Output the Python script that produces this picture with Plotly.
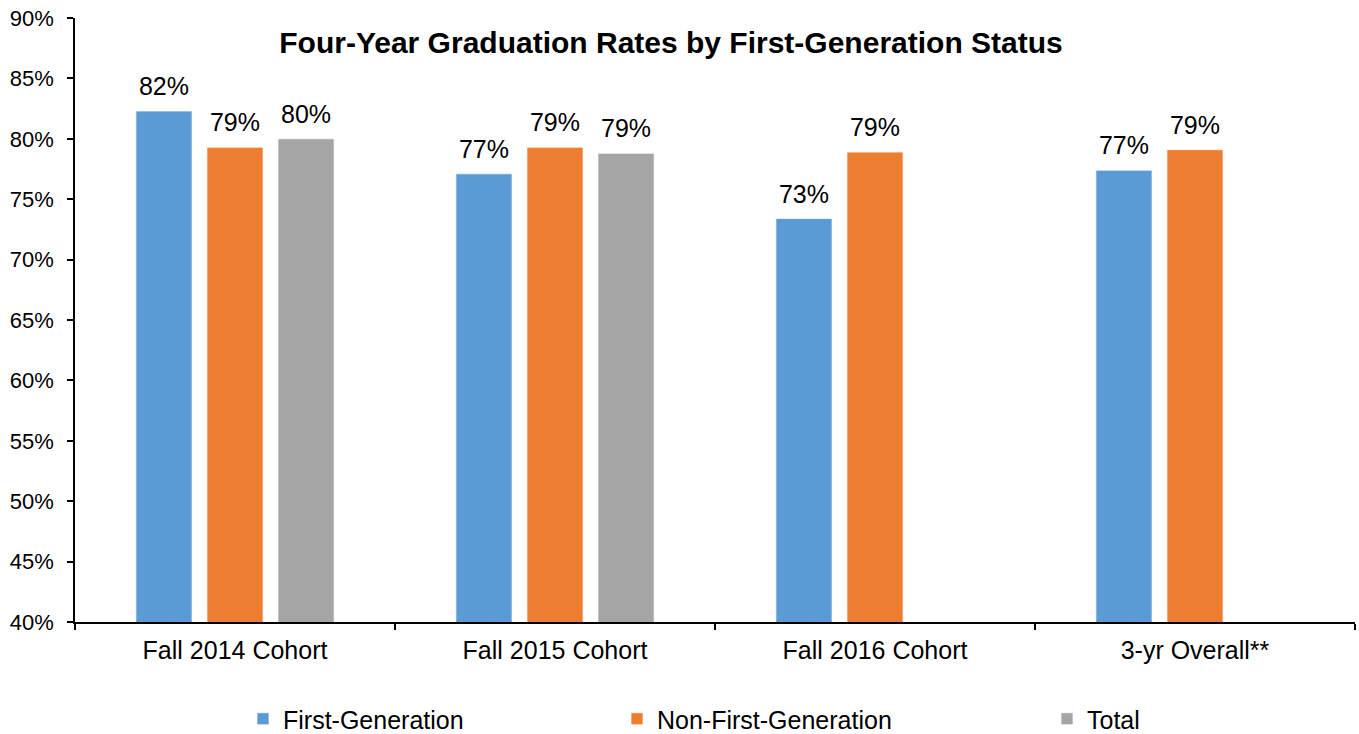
import plotly.graph_objects as go

categories = ["Fall 2014 Cohort", "Fall 2015 Cohort", "Fall 2016 Cohort", "3-yr Overall**"]
first_gen = [82.3, 77.1, 73.4, 77.4]
non_first_gen = [79.3, 79.3, 78.9, 79.1]
total = [80.0, 78.8, None, None]

series_names = ["First-Generation", "Non-First-Generation", "Total"]
series_colors = ["#5B9BD5", "#ED7D31", "#A5A5A5"]
legend_ids = ["legend", "legend2", "legend3"]
legend_x = [243 / 1359, 617 / 1359, 1047 / 1359]

FONT = "Liberation Sans, Arial, sans-serif"
BARGAP = 0.334
Y_RANGE = [40, 90]
LABEL_LIFT = 0.8  # value-axis units the data labels sit above the bar tops
W, H = 1359, 734

fig = go.Figure()
for vals, name, color, lid in zip([first_gen, non_first_gen, total], series_names, series_colors, legend_ids):
    fig.add_trace(go.Bar(
        x=categories, y=vals, name=name,
        marker=dict(color=color, line=dict(color="rgba(255,255,255,0.7)", width=1)),
        legend=lid, showlegend=True,
        offsetgroup=name, alignmentgroup="a",
        hoverinfo="skip",
    ))
# value labels, grouped the same way as the bars (on a twin axis shifted slightly for padding)
for vals, name in zip([first_gen, non_first_gen, total], series_names):
    fig.add_trace(go.Scatter(
        x=categories, y=vals, mode="text", yaxis="y2",
        text=[None if v is None else f"{v:.0f}%" for v in vals],
        textposition="top center",
        textfont=dict(size=25, color="#000000", family=FONT),
        showlegend=False, cliponaxis=False, hoverinfo="skip",
        offsetgroup=name, alignmentgroup="a",
    ))

layout_legends = {}
for lid, lx in zip(legend_ids, legend_x):
    layout_legends[lid] = dict(
        x=lx, xref="container", y=1 - 719 / H, yref="container",
        xanchor="left", yanchor="middle",
        orientation="h", font=dict(size=25, color="#000000", family=FONT),
        bgcolor="rgba(0,0,0,0)", borderwidth=0,
    )

fig.update_layout(
    width=W, height=H,
    margin=dict(l=75, r=4, t=18, b=112),
    paper_bgcolor="white", plot_bgcolor="white",
    barmode="group", bargap=BARGAP, bargroupgap=0.21,
    scattermode="group", scattergap=BARGAP,
    showlegend=True,
    font=dict(family=FONT, color="#000000"),
    title=dict(
        text="<b>Four-Year Graduation Rates by First-Generation Status</b>",
        x=671 / W, xref="container", xanchor="center",
        y=1 - 42 / H, yref="container", yanchor="middle",
        font=dict(size=30, color="#000000", family=FONT),
    ),
    yaxis=dict(
        range=Y_RANGE, dtick=5, ticksuffix="%",
        showgrid=False, zeroline=False, automargin=False,
        showline=True, linecolor="#000000", linewidth=1.5,
        ticks="outside", ticklen=6, tickcolor="#000000", tickwidth=1.5,
        tickfont=dict(size=22, color="#000000", family=FONT),
        ticklabelstandoff=9, ticklabeloverflow="allow",
    ),
    yaxis2=dict(
        overlaying="y", visible=False, automargin=False,
        range=[Y_RANGE[0] - LABEL_LIFT, Y_RANGE[1] - LABEL_LIFT],
    ),
    xaxis=dict(
        showgrid=False, showline=True, linecolor="#000000", linewidth=2,
        automargin=False,
        ticks="outside", ticklen=6, tickcolor="#000000", tickwidth=1.5,
        tickson="boundaries",
        tickfont=dict(size=25, color="#000000", family=FONT),
        ticklabelstandoff=5,
    ),
    **layout_legends,
)

fig.write_html(
    "out.html",
    config={"displayModeBar": False},
    post_script="document.body.style.margin='0';",
)
